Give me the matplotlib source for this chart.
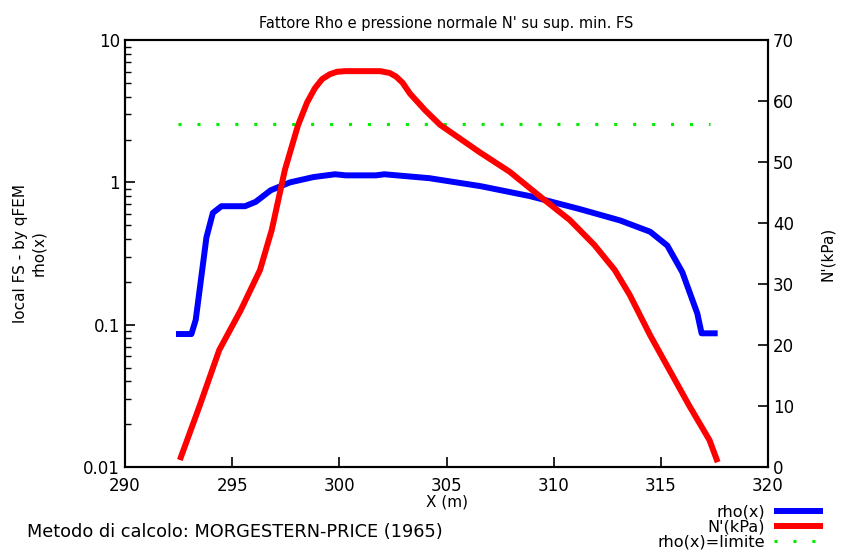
import matplotlib
matplotlib.use('Agg')
import matplotlib.pyplot as plt
from matplotlib.ticker import LogLocator, NullFormatter, FixedLocator

# rho(x) along the slip surface
x_rho = [292.38, 293.1, 293.3, 293.6, 293.8, 294.1, 294.5, 295.0, 295.6, 296.1, 296.8,
         297.7, 298.8, 299.8, 300.3, 301.7, 302.1, 304.2, 306.6, 308.9, 311.2, 313.1,
         314.5, 315.3, 316.0, 316.7, 316.9, 317.65]
rho = [0.086, 0.086, 0.108, 0.24, 0.41, 0.61, 0.68, 0.68, 0.68, 0.73, 0.88,
       1.0, 1.09, 1.14, 1.12, 1.12, 1.14, 1.07, 0.94, 0.80, 0.65, 0.54,
       0.45, 0.36, 0.234, 0.12, 0.087, 0.087]

# normal pressure N' (kPa)
x_n = [292.56, 293.5, 294.4, 295.4, 296.3, 296.85, 297.46, 298.07, 298.5, 298.86, 299.2,
       299.56, 299.9, 300.26, 301.9, 302.35, 302.65, 302.95, 303.3, 304.0, 304.7, 305.4,
       306.55, 307.95, 309.35, 310.75, 311.9, 312.85, 313.55, 314.5, 315.4, 316.3,
       317.27, 317.65]
n_kpa = [1.15, 10.2, 19.2, 25.7, 32.3, 38.9, 48.7, 56.0, 59.8, 62.1, 63.6,
         64.4, 64.8, 64.9, 64.9, 64.6, 64.0, 63.0, 61.2, 58.5, 56.1, 54.4,
         51.6, 48.4, 44.4, 40.5, 36.4, 32.3, 28.2, 21.6, 15.9, 10.2,
         4.4, 0.8]

# limit value of rho
x_lim = [292.47, 317.3]
rho_lim = [2.57, 2.57]

fig = plt.figure(figsize=(8.53, 5.56), dpi=100)
ax = fig.add_axes([0.1465, 0.16, 0.7539, 0.768])
ax2 = ax.twinx()

l1, = ax.plot(x_rho, rho, color='#0000ff', lw=4.3, solid_joinstyle='round',
              solid_capstyle='butt', label='rho(x)')
l3, = ax.plot(x_lim, rho_lim, color='#00ee00', lw=2.2, dashes=[1, 5.2], label='rho(x)=limite')
l2, = ax2.plot(x_n, n_kpa, color='#ff0000', lw=4.3, solid_joinstyle='round',
               solid_capstyle='butt', label="N'(kPa)")

ax.set_yscale('log')
ax.set_xlim(290, 320)
ax.set_ylim(0.01, 10)
ax2.set_ylim(0, 70)
ax.set_xticks(range(290, 321, 5))
ax.yaxis.set_major_locator(FixedLocator([0.01, 0.1, 1, 10]))
ax.set_yticklabels(['0.01', '0.1', '1', '10'])
ax.yaxis.set_minor_locator(LogLocator(base=10, subs=range(2, 10)))
ax.yaxis.set_minor_formatter(NullFormatter())
ax2.set_yticks(range(0, 71, 10))

for a in (ax, ax2):
    for s in a.spines.values():
        s.set_linewidth(1.5)
ax.tick_params(axis='both', which='major', direction='in', length=7, width=1.2,
               labelsize=12, top=False, right=False)
ax.tick_params(axis='y', which='minor', direction='in', length=4, width=1.0, right=False)
ax.tick_params(axis='x', pad=7)
ax2.tick_params(axis='y', direction='in', length=7, width=1.2, labelsize=12)

ax.set_title("Fattore Rho e pressione normale N' su sup. min. FS", fontsize=10.5, pad=9)
ax.set_xlabel('X (m)', fontsize=11, labelpad=0)
ax.set_ylabel('local FS - by qFEM\nrho(x)', fontsize=11, labelpad=27)
ax2.set_ylabel("N'(kPa)", fontsize=11, labelpad=19)

fig.text(0.032, 0.034, 'Metodo di calcolo: MORGESTERN-PRICE (1965)', fontsize=12.8)

fig.legend([l1, l2, l3], ['rho(x)', "N'(kPa)", 'rho(x)=limite'],
           loc='lower right', bbox_to_anchor=(0.972, 0.0), bbox_transform=fig.transFigure,
           markerfirst=False, frameon=False, fontsize=11.6, handlelength=3.0,
           labelspacing=0.0, handletextpad=0.6, borderaxespad=0)

fig.savefig('out.png', dpi=100)
